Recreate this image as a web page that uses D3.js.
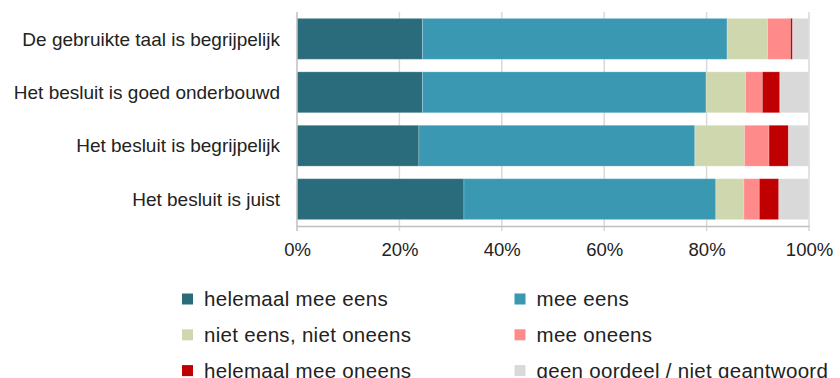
<!DOCTYPE html>
<html>
<head>
<meta charset="utf-8">
<script src="https://cdn.jsdelivr.net/npm/d3@7"></script>
<style>
  body { margin: 0; background: #fff; }
  svg { display: block; font-family: "Liberation Sans", Arial, sans-serif; }
</style>
</head>
<body>
<svg id="chart" width="840" height="378"></svg>
<script>
// Statements (top to bottom)
const categories = [
  "De gebruikte taal is begrijpelijk",
  "Het besluit is goed onderbouwd",
  "Het besluit is begrijpelijk",
  "Het besluit is juist"
];
// Answer categories, in stacking order
const seriesNames = [
  "helemaal mee eens",
  "mee eens",
  "niet eens, niet oneens",
  "mee oneens",
  "helemaal mee oneens",
  "geen oordeel / niet geantwoord"
];
const seriesColors = ["#2B6C7C", "#3A98B2", "#CFD7AF", "#FF8A8A", "#C00000", "#D9D9D9"];
// Percentages per statement, one array per answer category
const helemaalMeeEens   = [24.5, 24.5, 23.8, 32.6];
const meeEens           = [59.5, 55.4, 53.9, 49.2];
const nietEensNietOneens = [7.9, 7.7, 9.7, 5.5];
const meeOneens         = [4.5, 3.3, 4.8, 3.0];
const helemaalMeeOneens = [0.4, 3.4, 3.8, 3.8];
const geenOordeel       = [3.2, 5.7, 4.0, 5.9];
const tickValues = [0, 20, 40, 60, 80, 100];

const seriesValues = [helemaalMeeEens, meeEens, nietEensNietOneens, meeOneens, helemaalMeeOneens, geenOordeel];
const rows = categories.map((c, i) => {
  const r = { category: c };
  seriesNames.forEach((s, j) => { r[s] = seriesValues[j][i]; });
  return r;
});

const svg = d3.select("#chart");
const margin = { left: 297, right: 31, top: 12, bottom: 152 };
const W = 840, H = 378;
const x = d3.scaleLinear().domain([0, 100]).range([margin.left, W - margin.right]);
const y = d3.scaleBand().domain(categories).range([margin.top, H - margin.bottom]).paddingInner(0.235).paddingOuter(0.12);

// Vertical gridlines
svg.append("g")
  .selectAll("line")
  .data(tickValues.slice(1))
  .join("line")
  .attr("x1", d => x(d)).attr("x2", d => x(d))
  .attr("y1", margin.top).attr("y2", H - margin.bottom + 5)
  .attr("stroke", "#D9D9D9").attr("stroke-width", 1.5);

// Stacked bars
const stack = d3.stack().keys(seriesNames)(rows);
const color = d3.scaleOrdinal().domain(seriesNames).range(seriesColors);
svg.append("g")
  .selectAll("g")
  .data(stack)
  .join("g")
  .attr("fill", d => color(d.key))
  .selectAll("rect")
  .data(d => d)
  .join("rect")
  .attr("x", d => x(d[0]))
  .attr("y", d => y(d.data.category))
  .attr("width", d => x(d[1]) - x(d[0]))
  .attr("height", y.bandwidth())
  .attr("stroke", "#ffffff").attr("stroke-opacity", 0.2).attr("stroke-width", 1);

// Bottom axis
const xAxis = svg.append("g")
  .attr("transform", `translate(0,${H - margin.bottom})`)
  .call(d3.axisBottom(x).tickValues(tickValues).tickFormat(d => d + "%").tickSize(0).tickPadding(17));
xAxis.select(".domain").attr("stroke", "#BFBFBF").attr("stroke-width", 1.5);
xAxis.selectAll("text").attr("font-size", 18.5).attr("fill", "#222").attr("font-family", "Liberation Sans, Arial, sans-serif");

// Left axis line and category labels
svg.append("line")
  .attr("x1", x(0)).attr("x2", x(0))
  .attr("y1", margin.top).attr("y2", H - margin.bottom + 5)
  .attr("stroke", "#BFBFBF").attr("stroke-width", 1.5);
svg.append("g")
  .selectAll("text")
  .data(categories)
  .join("text")
  .attr("x", 280)
  .attr("y", d => y(d) + y.bandwidth() / 2)
  .attr("dy", "0.35em")
  .attr("text-anchor", "end")
  .attr("font-size", 19)
  .attr("fill", "#222")
  .text(d => d);

// Legend, two columns
const legend = svg.append("g")
  .selectAll("g")
  .data(seriesNames)
  .join("g")
  .attr("transform", (d, i) => `translate(${i % 2 === 0 ? 182 : 514.5},${299 + Math.floor(i / 2) * 35.8})`);
legend.append("rect")
  .attr("x", 0).attr("y", -5.5).attr("width", 11).attr("height", 11)
  .attr("fill", d => color(d));
legend.append("text")
  .attr("x", 22).attr("dy", "0.35em")
  .attr("font-size", 20.5)
  .attr("letter-spacing", 0.3)
  .attr("fill", "#222")
  .text(d => d);
</script>
</body>
</html>
